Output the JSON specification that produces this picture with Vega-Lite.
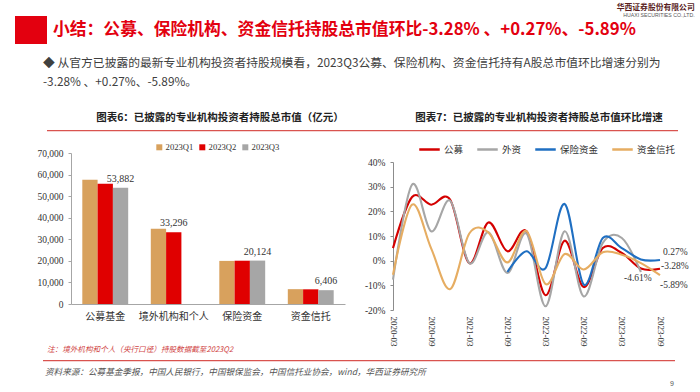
{
  "$schema": "https://vega.github.io/schema/vega-lite/v6.json",
  "background": "white",
  "padding": {"left": 15, "top": 4, "right": 0, "bottom": 0},
  "title": {"text": "华西证券股份有限公司", "subtitle": "HUAXI SECURITIES CO.,LTD.", "anchor": "end", "dx": 6, "fontSize": 7.8, "font": "Noto Sans CJK SC", "fontWeight": "bold", "color": "#5a1e1e", "subtitleFont": "Liberation Sans", "subtitleFontSize": 5.2, "subtitleColor": "#555555", "subtitlePadding": 1, "offset": -2},
  "datasets": {
    "bars": [
      {"cat": "公募基金", "q": "2023Q1", "v": 57550},
      {"cat": "公募基金", "q": "2023Q2", "v": 55709},
      {"cat": "公募基金", "q": "2023Q3", "v": 53882},
      {"cat": "境外机构和个人", "q": "2023Q1", "v": 34905},
      {"cat": "境外机构和个人", "q": "2023Q2", "v": 33296},
      {"cat": "保险资金", "q": "2023Q1", "v": 19980},
      {"cat": "保险资金", "q": "2023Q2", "v": 20070},
      {"cat": "保险资金", "q": "2023Q3", "v": 20124},
      {"cat": "资金信托", "q": "2023Q1", "v": 6876},
      {"cat": "资金信托", "q": "2023Q2", "v": 6807},
      {"cat": "资金信托", "q": "2023Q3", "v": 6406}
    ],
    "lines": [
      {"date": "2020-03", "s": "公募", "v": 0.051},
      {"date": "2020-06", "s": "公募", "v": 0.258},
      {"date": "2020-09", "s": "公募", "v": 0.227},
      {"date": "2020-12", "s": "公募", "v": 0.247},
      {"date": "2021-03", "s": "公募", "v": -0.010},
      {"date": "2021-06", "s": "公募", "v": 0.155},
      {"date": "2021-09", "s": "公募", "v": 0.038},
      {"date": "2021-12", "s": "公募", "v": 0.119},
      {"date": "2022-03", "s": "公募", "v": -0.140},
      {"date": "2022-06", "s": "公募", "v": 0.081},
      {"date": "2022-09", "s": "公募", "v": -0.107},
      {"date": "2022-12", "s": "公募", "v": 0.051},
      {"date": "2023-03", "s": "公募", "v": 0.031},
      {"date": "2023-06", "s": "公募", "v": -0.032},
      {"date": "2023-09", "s": "公募", "v": -0.0328},
      {"date": "2020-03", "s": "外资", "v": -0.077},
      {"date": "2020-06", "s": "外资", "v": 0.308},
      {"date": "2020-09", "s": "外资", "v": 0.119},
      {"date": "2020-12", "s": "外资", "v": 0.243},
      {"date": "2021-03", "s": "外资", "v": -0.010},
      {"date": "2021-06", "s": "外资", "v": 0.115},
      {"date": "2021-09", "s": "外资", "v": -0.050},
      {"date": "2021-12", "s": "外资", "v": 0.110},
      {"date": "2022-03", "s": "外资", "v": -0.185},
      {"date": "2022-06", "s": "外资", "v": 0.119},
      {"date": "2022-09", "s": "外资", "v": -0.145},
      {"date": "2022-12", "s": "外资", "v": 0.072},
      {"date": "2023-03", "s": "外资", "v": 0.092},
      {"date": "2023-06", "s": "外资", "v": -0.0461},
      {"date": "2021-09", "s": "保险资金", "v": -0.046},
      {"date": "2021-12", "s": "保险资金", "v": 0.038},
      {"date": "2022-03", "s": "保险资金", "v": -0.030},
      {"date": "2022-06", "s": "保险资金", "v": 0.230},
      {"date": "2022-09", "s": "保险资金", "v": -0.097},
      {"date": "2022-12", "s": "保险资金", "v": 0.092},
      {"date": "2023-03", "s": "保险资金", "v": 0.051},
      {"date": "2023-06", "s": "保险资金", "v": 0.005},
      {"date": "2023-09", "s": "保险资金", "v": 0.0027},
      {"date": "2020-03", "s": "资金信托", "v": -0.057},
      {"date": "2020-06", "s": "资金信托", "v": 0.227},
      {"date": "2020-09", "s": "资金信托", "v": 0.050},
      {"date": "2020-12", "s": "资金信托", "v": -0.115},
      {"date": "2021-03", "s": "资金信托", "v": 0.110},
      {"date": "2021-06", "s": "资金信托", "v": 0.115},
      {"date": "2021-09", "s": "资金信托", "v": -0.007},
      {"date": "2021-12", "s": "资金信托", "v": 0.120},
      {"date": "2022-03", "s": "资金信托", "v": -0.095},
      {"date": "2022-06", "s": "资金信托", "v": 0.027},
      {"date": "2022-09", "s": "资金信托", "v": -0.036},
      {"date": "2022-12", "s": "资金信托", "v": 0.034},
      {"date": "2023-03", "s": "资金信托", "v": 0.024},
      {"date": "2023-06", "s": "资金信托", "v": -0.010},
      {"date": "2023-09", "s": "资金信托", "v": -0.0589}
    ],
    "ann": [
      {"date": "2023-09", "s": "保险资金", "v": 0.0027, "t": "0.27%"},
      {"date": "2023-09", "s": "公募", "v": -0.0328, "t": "-3.28%"},
      {"date": "2023-06", "s": "外资", "v": -0.0461, "t": "-4.61%"},
      {"date": "2023-09", "s": "资金信托", "v": -0.0589, "t": "-5.89%"}
    ],
    "xticks": [
      {"date": "2020-09"}, {"date": "2021-03"}, {"date": "2021-09"}, {"date": "2022-03"},
      {"date": "2022-09"}, {"date": "2023-03"}, {"date": "2023-09"}
    ],
    "none": []
  },
  "spacing": 0,
  "vconcat": [
    {
      "spacing": 6,
      "hconcat": [
        {
          "width": 32, "height": 28,
          "data": {"name": "none"}, "mark": "rule", "encoding": {},
          "view": {"fill": "#e3000f", "stroke": null}
        },
        {
          "width": 1, "height": 1,
          "data": {"name": "none"}, "mark": "rule", "encoding": {},
          "title": {"text": "小结：公募、保险机构、资金信托持股总市值环比-3.28% 、+0.27%、-5.89%", "orient": "bottom", "anchor": "start", "baseline": "top", "offset": 5, "fontSize": 16.8, "fontWeight": "bold", "font": "Noto Sans CJK SC", "color": "#e3000f"}
        }
      ]
    },
    {"width": 1, "height": 14, "data": {"name": "none"}, "mark": "rule", "encoding": {}},
    {
      "width": 1, "height": 23.7,
      "data": {"name": "none"}, "mark": "rule", "encoding": {},
      "title": {"text": ["◆  从官方已披露的最新专业机构投资者持股规模看，2023Q3公募、保险机构、资金信托持有A股总市值环比增速分别为", "-3.28% 、+0.27%、-5.89%。"], "anchor": "start", "dx": 28, "fontSize": 11.8, "lineHeight": 19, "fontWeight": "normal", "font": "Noto Sans CJK SC", "color": "#404040", "offset": 0}
    },
    {
      "spacing": 0,
      "hconcat": [
        {"width": 32, "height": 1, "data": {"name": "none"}, "mark": "rule", "encoding": {}},
        {
          "width": 313, "height": 1.3,
          "data": {"name": "none"}, "mark": "rule", "encoding": {},
          "view": {"fill": "#d9534f", "stroke": null},
          "title": {"text": "图表6：已披露的专业机构投资者持股总市值（亿元）", "anchor": "middle", "dx": 16.5, "offset": 6.5, "fontSize": 10.5, "fontWeight": "bold", "font": "Noto Sans CJK SC", "color": "#222222"}
        },
        {
          "width": 318, "height": 1.3,
          "data": {"name": "none"}, "mark": "rule", "encoding": {},
          "view": {"fill": "#d9534f", "stroke": null},
          "title": {"text": "图表7：已披露的专业机构投资者持股总市值环比增速", "anchor": "middle", "dx": 20, "offset": 6.5, "fontSize": 10.5, "fontWeight": "bold", "font": "Noto Sans CJK SC", "color": "#222222"}
        }
      ]
    },
    {"width": 1, "height": 5.9, "data": {"name": "none"}, "mark": "rule", "encoding": {}},
    {
      "spacing": 0,
      "resolve": {"scale": {"color": "independent"}, "legend": {"color": "independent"}},
      "hconcat": [
        {"width": 1, "height": 1, "data": {"name": "none"}, "mark": "rule", "encoding": {}},
        {
          "width": 274, "height": 151,
          "data": {"name": "bars"},
          "encoding": {
            "x": {"field": "cat", "type": "nominal", "sort": ["公募基金", "境外机构和个人", "保险资金", "资金信托"], "title": null,
                  "scale": {"paddingInner": 0.33, "paddingOuter": 0.165},
                  "axis": {"labelAngle": 0, "ticks": false, "domainColor": "#a6a6a6", "labelFontSize": 10, "labelColor": "#333333", "labelPadding": 7, "labelFont": "Noto Sans CJK SC"}},
            "xOffset": {"field": "q", "type": "nominal", "sort": ["2023Q1", "2023Q2", "2023Q3"], "scale": {"domain": ["2023Q1", "2023Q2", "2023Q3"], "paddingInner": 0, "paddingOuter": 0}},
            "y": {"field": "v", "type": "quantitative", "title": null,
                  "scale": {"domain": [0, 70000], "nice": false},
                  "axis": {"values": [0, 10000, 20000, 30000, 40000, 50000, 60000, 70000], "labelExpr": "format(datum.value, ',')", "grid": false, "labelFont": "Liberation Serif", "labelFontSize": 9.5, "labelColor": "#333333", "domainColor": "#a6a6a6", "tickColor": "#a6a6a6", "tickSize": 3, "labelPadding": 5, "minExtent": 55, "maxExtent": 55}}
          },
          "layer": [
            {
              "mark": {"type": "bar"},
              "encoding": {
                "color": {"field": "q", "type": "nominal",
                          "scale": {"domain": ["2023Q1", "2023Q2", "2023Q3"], "range": ["#d8a15d", "#e00000", "#a6a6a6"]},
                          "legend": {"orient": "none", "legendX": 84, "legendY": -10, "direction": "horizontal", "gridAlign": "none", "title": null, "symbolType": "square", "symbolSize": 36, "symbolStrokeWidth": 0, "labelFont": "Liberation Serif", "labelFontSize": 8.6, "labelColor": "#333333", "labelOffset": 2, "columnPadding": 4}}
              }
            },
            {
              "transform": [{"filter": "datum.q == '2023Q3' || (datum.cat == '境外机构和个人' && datum.q == '2023Q2')"}],
              "mark": {"type": "text", "dy": -9, "font": "Liberation Serif", "fontSize": 10, "color": "#333333"},
              "encoding": {"text": {"field": "v", "type": "quantitative", "format": ","}}
            }
          ]
        },
        {
          "width": 267, "height": 157,
          "encoding": {
            "x": {"field": "date", "type": "ordinal", "title": null,
                  "scale": {"type": "point", "padding": 0, "domain": ["2020-03", "2020-06", "2020-09", "2020-12", "2021-03", "2021-06", "2021-09", "2021-12", "2022-03", "2022-06", "2022-09", "2022-12", "2023-03", "2023-06", "2023-09"]},
                  "axis": {"values": ["2020-03", "2020-09", "2021-03", "2021-09", "2022-03", "2022-09", "2023-03", "2023-09"], "labelAngle": 90, "labelAlign": "left", "labelBaseline": "middle", "ticks": false, "domain": false, "labelFont": "Liberation Serif", "labelFontSize": 9, "labelColor": "#333333", "labelPadding": 6, "minExtent": 32, "maxExtent": 32}},
            "y": {"field": "v", "type": "quantitative", "title": null,
                  "scale": {"domain": [-0.2, 0.4], "range": [157, 9], "nice": false, "zero": false},
                  "axis": {"values": [-0.2, -0.1, 0, 0.1, 0.2, 0.3, 0.4], "format": ".0%", "labelExpr": "replace(datum.label, '−', '-')", "grid": false, "labelFont": "Liberation Serif", "labelFontSize": 9.5, "labelColor": "#333333", "domainColor": "#8c8c8c", "tickColor": "#8c8c8c", "tickSize": 3, "labelPadding": 5, "minExtent": 48, "maxExtent": 48}}
          },
          "layer": [
            {
              "data": {"name": "none"},
              "mark": {"type": "rule", "color": "#8c8c8c", "strokeWidth": 1},
              "encoding": {"x": null, "y": {"datum": 0}}
            },
            {
              "data": {"name": "xticks"},
              "mark": {"type": "tick", "orient": "vertical", "color": "#8c8c8c", "size": 5, "thickness": 1},
              "encoding": {"y": {"datum": 0}}
            },
            {
              "data": {"name": "lines"},
              "mark": {"type": "line", "interpolate": "cardinal", "strokeWidth": 2.1},
              "encoding": {
                "color": {"field": "s", "type": "nominal",
                          "scale": {"domain": ["公募", "外资", "保险资金", "资金信托"], "range": ["#d40000", "#a6a6a6", "#1f6fc2", "#e6ad62"]},
                          "legend": {"orient": "none", "legendX": 25, "legendY": -15, "direction": "horizontal", "gridAlign": "none", "title": null, "symbolType": "stroke", "symbolSize": 420, "symbolStrokeWidth": 2.5, "labelFont": "Noto Sans CJK SC", "labelFontSize": 9.5, "labelColor": "#333333", "labelOffset": 3, "columnPadding": 8}}
              }
            },
            {
              "data": {"name": "ann"},
              "transform": [{"filter": "datum.s == '保险资金'"}],
              "mark": {"type": "text", "align": "left", "dx": 3, "dy": -7.6, "font": "Liberation Serif", "fontSize": 9.5, "color": "#333333"},
              "encoding": {"text": {"field": "t"}}
            },
            {
              "data": {"name": "ann"},
              "transform": [{"filter": "datum.s == '公募'"}],
              "mark": {"type": "text", "align": "left", "dx": 1, "dy": -3, "font": "Liberation Serif", "fontSize": 9.5, "color": "#333333"},
              "encoding": {"text": {"field": "t"}}
            },
            {
              "data": {"name": "ann"},
              "transform": [{"filter": "datum.s == '外资'"}],
              "mark": {"type": "text", "align": "center", "dx": -3, "dy": 6, "font": "Liberation Serif", "fontSize": 9.5, "color": "#333333"},
              "encoding": {"text": {"field": "t"}}
            },
            {
              "data": {"name": "ann"},
              "transform": [{"filter": "datum.s == '资金信托'"}],
              "mark": {"type": "text", "align": "left", "dx": 0, "dy": 9.5, "font": "Liberation Serif", "fontSize": 9.5, "color": "#333333"},
              "encoding": {"text": {"field": "t"}}
            }
          ]
        }
      ]
    },
    {
      "spacing": 0,
      "hconcat": [
        {"width": 27.7, "height": 1, "data": {"name": "none"}, "mark": "rule", "encoding": {}},
        {
          "width": 632, "height": 1.2,
          "data": {"name": "none"}, "mark": "rule", "encoding": {},
          "view": {"fill": "#d9534f", "stroke": null},
          "title": {"text": "注：境外机构和个人（央行口径）持股数据截至2023Q2", "anchor": "start", "dx": 4, "offset": 6, "fontSize": 7.6, "fontStyle": "italic", "fontWeight": "normal", "font": "Noto Sans CJK SC", "color": "#d04545"}
        }
      ]
    },
    {"width": 1, "height": 5.5, "data": {"name": "none"}, "mark": "rule", "encoding": {}},
    {
      "spacing": 0,
      "hconcat": [
        {
          "width": 655, "height": 1,
          "data": {"name": "none"}, "mark": "rule", "encoding": {},
          "title": {"text": "资料来源：公募基金季报，中国人民银行，中国银保监会，中国信托业协会，wind，华西证券研究所", "anchor": "start", "dx": 30, "offset": 0, "fontSize": 8.6, "fontStyle": "italic", "fontWeight": "normal", "font": "Noto Sans CJK SC", "color": "#555555"}
        },
        {
          "width": 6, "height": 1,
          "data": {"name": "none"}, "mark": "rule", "encoding": {},
          "title": {"text": "9", "anchor": "start", "dy": 10, "offset": 0, "fontSize": 7, "fontWeight": "normal", "font": "Liberation Sans", "color": "#555555"}
        }
      ]
    }
  ],
  "config": {
    "view": {"stroke": null},
    "font": "Noto Sans CJK SC",
    "axis": {"labelFont": "Liberation Serif"}
  }
}
